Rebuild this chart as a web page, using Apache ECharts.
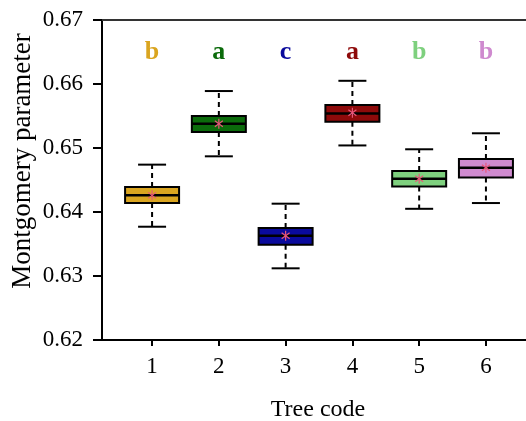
<!DOCTYPE html>
<html>
<head>
<meta charset="utf-8">
<script src="https://cdn.jsdelivr.net/npm/echarts@6/dist/echarts.min.js"></script>
<style>
  html, body { margin: 0; padding: 0; background: #fff; }
  #chart { width: 526px; height: 421px; }
</style>
</head>
<body>
<div id="chart"></div>
<script>
  // values
  var treeCodes = [1, 2, 3, 4, 5, 6]
  var lowerWhisker = [0.6377, 0.6487, 0.6312, 0.6504, 0.6405, 0.6414]
  var q1 = [0.6414, 0.6525, 0.6349, 0.6541, 0.6440, 0.6454]
  var medians = [0.6426, 0.6538, 0.6363, 0.6554, 0.6452, 0.6469]
  var q3 = [0.6439, 0.6550, 0.6375, 0.6567, 0.6464, 0.6483]
  var upperWhisker = [0.6474, 0.6589, 0.6413, 0.6605, 0.6498, 0.6523]
  var means = [0.6426, 0.6538, 0.6363, 0.6555, 0.6452, 0.6469]
  var groupLetters = ['b', 'a', 'c', 'a', 'b', 'b']
  var letterLevel = 0.665
  var yTicks = [0.62, 0.63, 0.64, 0.65, 0.66, 0.67]

  var boxColors = ['#DAA520', '#0B6B0B', '#0A0A9C', '#8E0A0A', '#7ED07E', '#CF8ACF']
  var starColor = '#E8577A'
  var serif = "'Liberation Serif', 'DejaVu Serif', serif"

  var boxData = treeCodes.map(function (c, i) {
    return [c, lowerWhisker[i], q1[i], medians[i], q3[i], upperWhisker[i], means[i]]
  })
  var letterData = treeCodes.map(function (c, i) {
    return [c, letterLevel, groupLetters[i]]
  })

  function renderBox(params, api) {
    var i = params.dataIndex
    var x = api.value(0)
    var pLow = api.coord([x, api.value(1)])
    var pQ1 = api.coord([x, api.value(2)])
    var pMed = api.coord([x, api.value(3)])
    var pQ3 = api.coord([x, api.value(4)])
    var pHigh = api.coord([x, api.value(5)])
    var pMean = api.coord([x, api.value(6)])
    var cx = pMed[0]
    var hw = 27
    var cap = 14
    var s = 5
    var line = { stroke: '#000', lineWidth: 2 }
    var dash = { stroke: '#000', lineWidth: 2, lineDash: [5, 4] }
    return {
      type: 'group',
      children: [
        { type: 'line', shape: { x1: cx, y1: pQ3[1], x2: cx, y2: pHigh[1] }, style: dash },
        { type: 'line', shape: { x1: cx, y1: pQ1[1], x2: cx, y2: pLow[1] }, style: dash },
        { type: 'line', shape: { x1: cx - cap, y1: pHigh[1], x2: cx + cap, y2: pHigh[1] }, style: line },
        { type: 'line', shape: { x1: cx - cap, y1: pLow[1], x2: cx + cap, y2: pLow[1] }, style: line },
        {
          type: 'rect',
          shape: { x: cx - hw, y: pQ3[1], width: hw * 2, height: pQ1[1] - pQ3[1] },
          style: { fill: boxColors[i], stroke: '#000', lineWidth: 2 },
        },
        { type: 'line', shape: { x1: cx - hw, y1: pMed[1], x2: cx + hw, y2: pMed[1] }, style: { stroke: '#000', lineWidth: 2.5 } },
        // mean marker
        { type: 'line', shape: { x1: pMean[0], y1: pMean[1] - s, x2: pMean[0], y2: pMean[1] + s }, style: { stroke: starColor, lineWidth: 1.2 } },
        { type: 'line', shape: { x1: pMean[0] - s * 0.8, y1: pMean[1] - s * 0.6, x2: pMean[0] + s * 0.8, y2: pMean[1] + s * 0.6 }, style: { stroke: starColor, lineWidth: 1.2 } },
        { type: 'line', shape: { x1: pMean[0] - s * 0.8, y1: pMean[1] + s * 0.6, x2: pMean[0] + s * 0.8, y2: pMean[1] - s * 0.6 }, style: { stroke: starColor, lineWidth: 1.2 } },
      ],
    }
  }

  function renderLetter(params, api) {
    var p = api.coord([api.value(0), api.value(1)])
    return {
      type: 'text',
      style: {
        text: groupLetters[params.dataIndex],
        x: p[0],
        y: p[1],
        fill: boxColors[params.dataIndex],
        font: 'bold 26px ' + serif,
        align: 'center',
        verticalAlign: 'middle',
        textAlign: 'center',
        textVerticalAlign: 'middle',
      },
    }
  }

  var chart = echarts.init(document.getElementById('chart'))
  chart.setOption({
    backgroundColor: '#fff',
    animation: false,
    grid: { left: 102, right: 0, top: 20, bottom: 81 },
    xAxis: [
      {
        type: 'value',
        min: 0.25,
        max: 6.6,
        splitLine: { show: false },
        axisLine: { lineStyle: { color: '#000', width: 2 } },
        axisTick: { show: true, length: 6, lineStyle: { color: '#000', width: 2 }, customValues: treeCodes },
        axisLabel: {
          customValues: treeCodes,
          color: '#000',
          fontFamily: serif,
          fontSize: 23,
          margin: 15,
        },
      },
      {
        type: 'value',
        position: 'top',
        min: 0.25,
        max: 6.6,
        splitLine: { show: false },
        axisLine: { show: true, lineStyle: { color: '#333', width: 2 } },
        axisTick: { show: false },
        axisLabel: { show: false },
      },
    ],
    yAxis: {
      type: 'value',
      min: yTicks[0],
      max: yTicks[yTicks.length - 1],
      interval: 0.01,
      splitLine: { show: false },
      axisLine: { show: true, lineStyle: { color: '#000', width: 2 } },
      axisTick: { show: true, length: 9, lineStyle: { color: '#000', width: 2 } },
      axisLabel: {
        color: '#000',
        fontFamily: serif,
        fontSize: 23,
        margin: 19,
        formatter: function (v) {
          return v.toFixed(2)
        },
      },
    },
    graphic: [
      {
        type: 'text',
        x: 23,
        y: 161,
        rotation: Math.PI / 2,
        style: {
          text: 'Montgomery parameter',
          font: '27px ' + serif,
          fill: '#000',
          align: 'center',
          verticalAlign: 'middle',
        },
      },
      {
        type: 'text',
        x: 318,
        y: 410,
        style: {
          text: 'Tree code',
          font: '24px ' + serif,
          fill: '#000',
          align: 'center',
          verticalAlign: 'middle',
        },
      },
    ],
    series: [
      {
        type: 'custom',
        renderItem: renderBox,
        data: boxData,
        encode: { x: 0, y: [1, 2, 3, 4, 5] },
        clip: false,
        z: 3,
      },
      {
        type: 'custom',
        renderItem: renderLetter,
        data: letterData,
        encode: { x: 0, y: 1 },
        clip: false,
        z: 4,
      },
    ],
  })
</script>
</body>
</html>
